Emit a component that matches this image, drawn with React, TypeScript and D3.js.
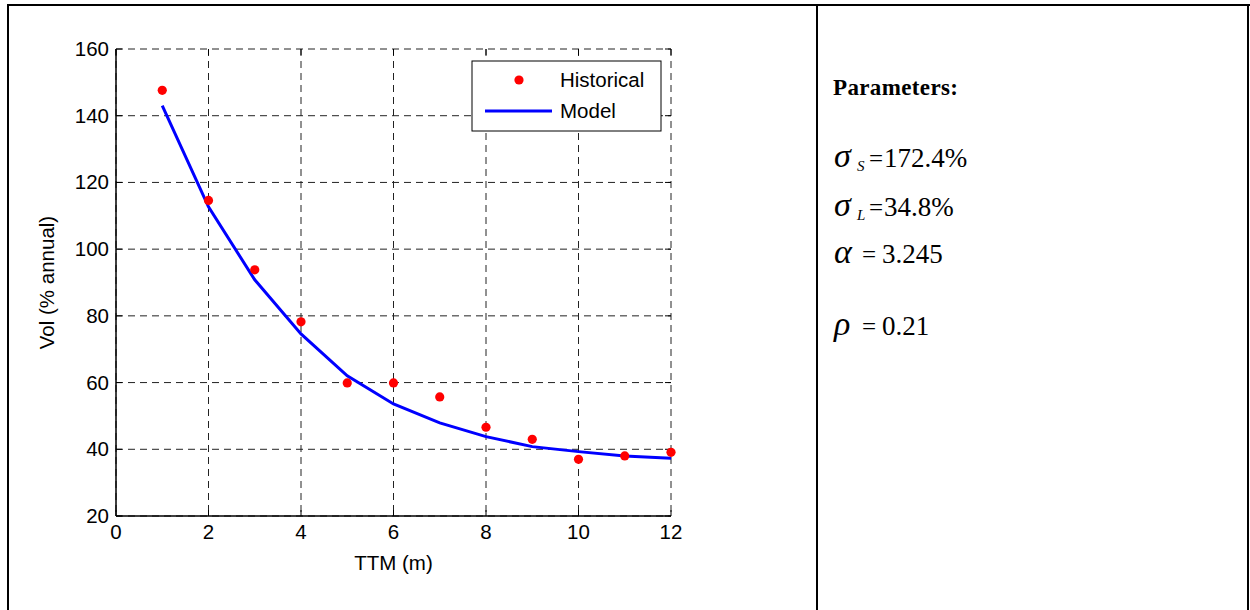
import React from "react";
import * as d3 from "d3";

// Term structure of volatility: historical estimates vs. fitted model
const months: number[] = [1, 2, 3, 4, 5, 6, 7, 8, 9, 10, 11, 12];
const historicalVol: number[] = [147.6, 114.6, 93.8, 78.2, 59.9, 59.9, 55.7, 46.6, 43.0, 37.0, 38.0, 39.1];
const modelVol: number[] = [143.0, 112.7, 90.8, 74.6, 62.0, 53.6, 47.9, 43.8, 40.8, 39.3, 38.0, 37.3];
const xTicks: number[] = [0, 2, 4, 6, 8, 10, 12];
const yTicks: number[] = [20, 40, 60, 80, 100, 120, 140, 160];
const legendLabels: string[] = ["Historical", "Model"];

// Fitted parameters shown beside the chart
const paramSymbols: string[] = ["σ", "σ", "α", "ρ"];
const paramSubscripts: string[] = ["S", "L", "", ""];
const paramValues: string[] = ["172.4%", "34.8%", "3.245", "0.21"];
const paramBaselines: number[] = [167, 216, 263, 335];

const W = 1250;
const H = 610;
const plot = { left: 116, right: 671, top: 49, bottom: 516 };
const sans = "'Liberation Sans', Arial, Helvetica, sans-serif";
const serif = "'Liberation Serif', 'Times New Roman', serif";
const FS = 20.5;

export default function App() {
  const x = d3.scaleLinear().domain([0, 12]).range([plot.left, plot.right]);
  const y = d3.scaleLinear().domain([20, 160]).range([plot.bottom, plot.top]);
  const line = d3
    .line<number>()
    .x((_, i) => x(months[i]))
    .y((d) => y(d));

  const dash = "7,5";
  const tickLen = 6;

  return (
    <div style={{ position: "absolute", left: 0, top: 0 }}>
      <svg width={W} height={H} style={{ display: "block", background: "#fff" }}>
        {/* table frame */}
        <line x1={7} x2={1250} y1={5} y2={5} stroke="#000" strokeWidth={2} />
        <line x1={8} x2={8} y1={4} y2={H} stroke="#000" strokeWidth={2} />
        <line x1={817} x2={817} y1={4} y2={H} stroke="#000" strokeWidth={2} />
        <line x1={1248} x2={1248} y1={4} y2={H} stroke="#000" strokeWidth={2} />

        {/* grid */}
        {xTicks.map((t) => (
          <line
            key={"gx" + t}
            x1={x(t)}
            x2={x(t)}
            y1={plot.top}
            y2={plot.bottom}
            stroke="#222"
            strokeWidth={1}
            strokeDasharray={dash}
          />
        ))}
        {yTicks.map((t) => (
          <line
            key={"gy" + t}
            x1={plot.left}
            x2={plot.right}
            y1={y(t)}
            y2={y(t)}
            stroke="#222"
            strokeWidth={1}
            strokeDasharray={dash}
          />
        ))}

        {/* axis lines */}
        <line x1={plot.left} x2={plot.left} y1={plot.top} y2={plot.bottom} stroke="#000" strokeWidth={1.5} />
        <line x1={plot.left} x2={plot.right} y1={plot.bottom} y2={plot.bottom} stroke="#000" strokeWidth={1.5} />

        {/* tick marks */}
        {xTicks.map((t) => (
          <g key={"tx" + t}>
            <line x1={x(t)} x2={x(t)} y1={plot.bottom} y2={plot.bottom - tickLen} stroke="#000" />
            <line x1={x(t)} x2={x(t)} y1={plot.top} y2={plot.top + tickLen} stroke="#000" />
          </g>
        ))}
        {yTicks.map((t) => (
          <g key={"ty" + t}>
            <line x1={plot.left} x2={plot.left + tickLen} y1={y(t)} y2={y(t)} stroke="#000" />
            <line x1={plot.right} x2={plot.right - tickLen} y1={y(t)} y2={y(t)} stroke="#000" />
          </g>
        ))}

        {/* tick labels */}
        {xTicks.map((t) => (
          <text key={"lx" + t} x={x(t)} y={plot.bottom + 23} textAnchor="middle" fontFamily={sans} fontSize={FS}>
            {t}
          </text>
        ))}
        {yTicks.map((t) => (
          <text key={"ly" + t} x={plot.left - 7} y={y(t) + 7} textAnchor="end" fontFamily={sans} fontSize={FS}>
            {t}
          </text>
        ))}

        {/* axis titles */}
        <text x={(plot.left + plot.right) / 2} y={570} textAnchor="middle" fontFamily={sans} fontSize={FS}>
          TTM (m)
        </text>
        <text
          transform={`translate(54,${(plot.top + plot.bottom) / 2}) rotate(-90)`}
          textAnchor="middle"
          fontFamily={sans}
          fontSize={FS}
        >
          Vol (% annual)
        </text>

        {/* model curve */}
        <path d={line(modelVol) ?? ""} fill="none" stroke="#0000ff" strokeWidth={3} />

        {/* historical points */}
        {historicalVol.map((v, i) => (
          <circle key={"p" + i} cx={x(months[i])} cy={y(v)} r={4.6} fill="#ff0000" />
        ))}

        {/* legend */}
        <g>
          <rect x={472} y={61} width={189} height={70} fill="#fff" stroke="#000" strokeWidth={1} />
          <circle cx={519} cy={80} r={4.6} fill="#ff0000" />
          <line x1={485} x2={552} y1={111} y2={111} stroke="#0000ff" strokeWidth={3} />
          <text x={560} y={87} fontFamily={sans} fontSize={FS}>
            {legendLabels[0]}
          </text>
          <text x={560} y={118} fontFamily={sans} fontSize={FS}>
            {legendLabels[1]}
          </text>
        </g>

        {/* parameter panel */}
        <text x={833} y={95} fontFamily={serif} fontWeight="bold" fontSize={23} textLength={125} lengthAdjust="spacing">
          Parameters:
        </text>
        <g fontFamily={serif}>
          {paramSymbols.map((s, i) => {
            const hasSub = paramSubscripts[i] !== "";
            return (
              <g key={"param" + i}>
                <text x={834} y={paramBaselines[i]} fontStyle="italic" fontSize={34}>
                  {s}
                </text>
                {hasSub && (
                  <text x={857} y={paramBaselines[i] + 4} fontStyle="italic" fontSize={15}>
                    {paramSubscripts[i]}
                  </text>
                )}
                <text x={hasSub ? 869 : 862} y={paramBaselines[i]} fontSize={25}>
                  =
                </text>
                <text x={hasSub ? 884 : 882} y={paramBaselines[i]} fontSize={27}>
                  {paramValues[i]}
                </text>
              </g>
            );
          })}
        </g>
      </svg>
    </div>
  );
}
